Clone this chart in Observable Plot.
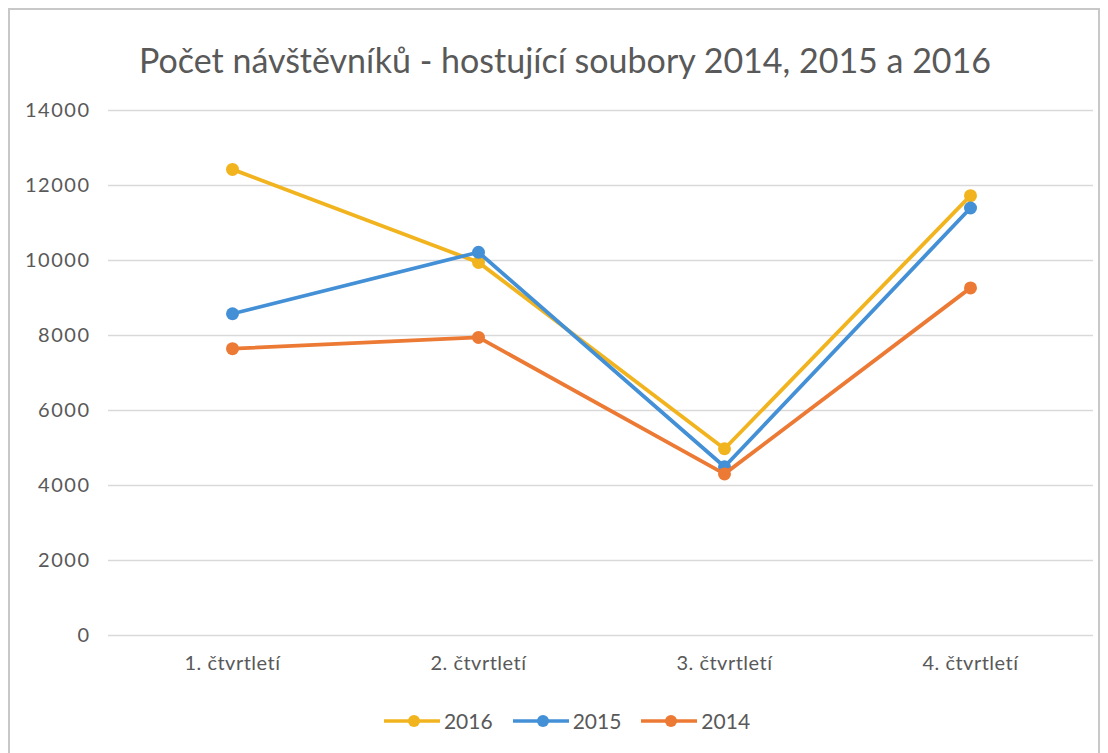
<!DOCTYPE html>
<html>
<head>
<meta charset="utf-8">
<script src="https://cdn.jsdelivr.net/npm/d3@7"></script>
<script src="https://cdn.jsdelivr.net/npm/@observablehq/plot@0.6"></script>
<style>
  body { margin: 0; background: #fff; }
  #wrap { position: relative; width: 1108px; height: 753px; overflow: hidden; font-family: Lato, "Open Sans", sans-serif; background: #fff; }
  #frame { position: absolute; left: 8px; top: 8px; width: 1092px; height: 770px; border: 2px solid #c8c8c8; box-sizing: border-box; }
  #title { position: absolute; left: 0; top: 39px; width: 1130px; text-align: center; font-size: 34px; color: #595959; white-space: nowrap; }
  #chart { position: absolute; left: 0; top: 90px; }
  #chart g[aria-label="y-axis tick label"] text { letter-spacing: 1.5px; }
  #chart g[aria-label="x-axis tick label"] text { letter-spacing: 0.5px; }
  #legend { position: absolute; left: 0; top: 708px; width: 1134px; display: flex; justify-content: center; align-items: center; gap: 4px; font-size: 21px; color: #595959; }
  .item { display: flex; align-items: center; margin: 0 8px; }
  .item svg { margin-right: 4px; }
</style>
</head>
<body>
<div id="wrap">
  <div id="frame"></div>
  <div id="title">Počet návštěvníků - hostující soubory 2014, 2015 a 2016</div>
  <div id="chart"></div>
  <div id="legend"></div>
</div>
<script>
const categories = ["1. čtvrtletí", "2. čtvrtletí", "3. čtvrtletí", "4. čtvrtletí"];
const years = ["2016", "2015", "2014"];
const values2016 = [12430, 9950, 4980, 11730];
const values2015 = [8580, 10220, 4500, 11400];
const values2014 = [7650, 7950, 4310, 9270];
const yTicks = [0, 2000, 4000, 6000, 8000, 10000, 12000, 14000];
const colors = ["#F2B41E", "#4490D6", "#EC7A35"];

const seriesValues = [values2016, values2015, values2014];
const data = years.flatMap((yr, i) => categories.map((c, j) => ({year: yr, quarter: c, value: seriesValues[i][j]})));

const seriesMarks = years.flatMap(yr => {
  const d = data.filter(r => r.year === yr);
  return [
    Plot.line(d, {x: "quarter", y: "value", stroke: "year", strokeWidth: 3.8}),
    Plot.dot(d, {x: "quarter", y: "value", fill: "year", r: 6.5})
  ];
});

const chart = Plot.plot({
  width: 1108,
  height: 600,
  marginTop: 20,
  marginBottom: 55,
  marginLeft: 108,
  marginRight: 15,
  style: {fontFamily: "Lato, sans-serif", background: "transparent", overflow: "visible"},
  x: {type: "point", domain: categories, padding: 0.5, label: null},
  y: {domain: [0, 14000], label: null},
  color: {domain: years, range: colors},
  marks: [
    Plot.gridY(yTicks, {stroke: "#d9d9d9", strokeOpacity: 1, strokeWidth: 1.5}),
    Plot.axisY(yTicks, {tickSize: 0, tickPadding: 18, fontSize: 20, fill: "#595959", tickFormat: d => String(d)}),
    Plot.axisX({tickSize: 0, tickPadding: 20, fontSize: 20, fill: "#595959"}),
    ...seriesMarks
  ]
});
document.getElementById("chart").appendChild(chart);

const legend = document.getElementById("legend");
years.forEach((yr, i) => {
  const item = document.createElement("div");
  item.className = "item";
  item.innerHTML = `<svg width="56" height="20"><line x1="0" x2="56" y1="10" y2="10" stroke="${colors[i]}" stroke-width="3.5"/><circle cx="30" cy="10" r="6" fill="${colors[i]}"/></svg><span>${yr}</span>`;
  legend.appendChild(item);
});
</script>
</body>
</html>
